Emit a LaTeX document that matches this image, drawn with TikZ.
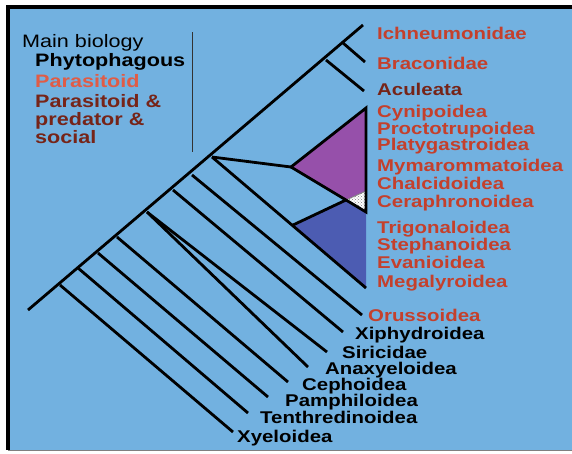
\documentclass[tikz,border=0pt]{standalone}
\usepackage{fontspec}
\setmainfont{Liberation Sans}[FakeStretch=1.2]
\usetikzlibrary{patterns}
\definecolor{skyblue}{RGB}{114,177,224}
\definecolor{grapepurple}{RGB}{150,80,170}
\definecolor{slateblue}{RGB}{76,92,178}
\definecolor{parared}{RGB}{196,64,44}
\definecolor{paralight}{RGB}{224,92,70}
\definecolor{socialred}{RGB}{118,36,24}

\begin{document}
\begin{tikzpicture}[x=1pt, y=-1pt,
        branch/.style={line width=2.8pt, black},
        taxon/.style={anchor=base west, inner sep=0pt, text=#1, font=\fontsize{17}{17}\selectfont\bfseries},
        taxon/.default=parared,
        legend/.style={anchor=base west, inner sep=0pt, text=#1, font=\fontsize{18}{18}\selectfont\bfseries}
    ]
        \useasboundingbox (0,0) rectangle (572,453);

        % Frame
        \fill[white] (0,0) rectangle (572,453);
        \fill[skyblue] (8,8) rectangle (572,450);
        \draw[line width=4pt] (6,7) -- (572,7);
        \draw[line width=4pt] (8,7) -- (8,450);
        \draw[gray, line width=1pt] (8,450.5) -- (572,450.5);

        % Legend
        \node[anchor=base west, inner sep=0pt, font=\fontsize{18}{18}\selectfont] (main) at (22,47) {Main biology};
        \node[legend=black] (phyto) at (35,66) {Phytophagous};
        \node[legend=paralight] (para) at (35,87) {Parasitoid};
        \node[legend=socialred] (social1) at (35,107) {Parasitoid \&};
        \node[legend=socialred] (social2) at (35,125) {predator \&};
        \node[legend=socialred] (social3) at (35,143) {social};
        \draw[gray!40!black, line width=0.8pt] (192,32) -- (192,152);

        % Spine and nodes
        \coordinate (root) at (28,310);
        \coordinate (nXye) at (60,285);
        \coordinate (nTen) at (78,268);
        \coordinate (nPam) at (98,253);
        \coordinate (nCep) at (117,237);
        \coordinate (nSir) at (147,212);
        \coordinate (nXip) at (173,190);
        \coordinate (nOru) at (192,175);
        \coordinate (nApo) at (212,157);
        \coordinate (nAcu) at (326,60);
        \coordinate (nBra) at (343,43);
        \coordinate (eIch) at (363,25);

        % Branch tips
        \coordinate (eBra) at (365,62);
        \coordinate (eAcu) at (364,91);
        \coordinate (eOru) at (362,315);
        \coordinate (eXip) at (343,332);
        \coordinate (eSir) at (327,352);
        \coordinate (eAna) at (308,367);
        \coordinate (eCep) at (288,382);
        \coordinate (ePam) at (268,397);
        \coordinate (eTen) at (248,413);
        \coordinate (eXye) at (233,432);

        % Triangle corners
        \coordinate (pA) at (291,167);
        \coordinate (pB) at (366,108);
        \coordinate (pC) at (366,191);
        \coordinate (pD) at (346,200);
        \coordinate (pE) at (366,212);
        \coordinate (bA) at (293,225);
        \coordinate (bB) at (366,288);

        % Clades
        \fill[grapepurple] (pA) -- (pB) -- (pC) -- (pD) -- cycle;
        \fill[slateblue] (bA) -- (pD) -- (pE) -- (bB) -- cycle;
        \fill[white] (pD) -- (pC) -- (pE) -- cycle;
        \fill[pattern=crosshatch dots, pattern color=gray] (pD) -- (pC) -- (pE) -- cycle;
        \draw[gray, line width=0.8pt] (pD) -- (pC);

        % Branches
        \draw[branch] (root) -- (eIch);
        \draw[branch] (nBra) -- (eBra);
        \draw[branch] (nAcu) -- (eAcu);
        \draw[branch] (nApo) -- (pA);
        \draw[branch, line join=miter] (pD) -- (pA) -- (pB) -- (pE) -- (pD);
        \draw[branch] (bA) -- (pD);
        \draw[branch] (nApo) -- (bB);
        \draw[branch] (nOru) -- (eOru);
        \draw[branch] (nXip) -- (eXip);
        \draw[branch] (nSir) -- (eSir);
        \draw[branch] (nSir) -- (eAna);
        \draw[branch] (nCep) -- (eCep);
        \draw[branch] (nPam) -- (ePam);
        \draw[branch] (nTen) -- (eTen);
        \draw[branch] (nXye) -- (eXye);

        % Taxa
        \node[taxon] (ich) at (377,39) {Ichneumonidae};
        \node[taxon] (bra) at (377,69) {Braconidae};
        \node[taxon=socialred] (acu) at (377,95) {Aculeata};
        \node[taxon] (cyn) at (377,117) {Cynipoidea};
        \node[taxon] (pro) at (377,134) {Proctotrupoidea};
        \node[taxon] (pla) at (377,150) {Platygastroidea};
        \node[taxon] (mym) at (377,171) {Mymarommatoidea};
        \node[taxon] (cha) at (377,189) {Chalcidoidea};
        \node[taxon] (cer) at (377,207) {Ceraphronoidea};
        \node[taxon] (tri) at (377,233) {Trigonaloidea};
        \node[taxon] (ste) at (377,250) {Stephanoidea};
        \node[taxon] (eva) at (377,268) {Evanioidea};
        \node[taxon] (meg) at (377,287) {Megalyroidea};
        \node[taxon] (oru) at (368,321) {Orussoidea};
        \node[taxon=black] (xip) at (355,339) {Xiphydroidea};
        \node[taxon=black] (sir) at (342,358) {Siricidae};
        \node[taxon=black] (ana) at (325,374) {Anaxyeloidea};
        \node[taxon=black] (cep) at (302,390) {Cephoidea};
        \node[taxon=black] (pam) at (285,406) {Pamphiloidea};
        \node[taxon=black] (ten) at (260,423) {Tenthredinoidea};
        \node[taxon=black] (xye) at (237,442) {Xyeloidea};
    \end{tikzpicture}
\end{document}
